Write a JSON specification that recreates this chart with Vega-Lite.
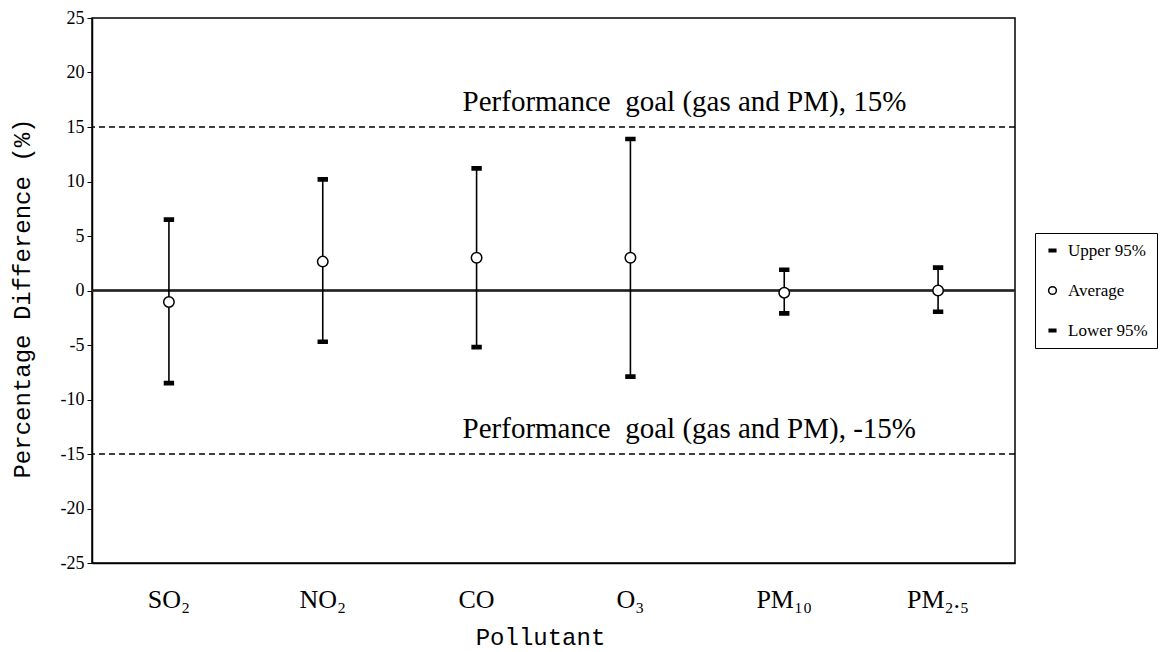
{
  "$schema": "https://vega.github.io/schema/vega-lite/v6.json",
  "width": 923,
  "height": 545,
  "autosize": {"type": "none"},
  "padding": {"left": 92, "top": 18, "right": 145, "bottom": 89},
  "background": "white",
  "config": {
    "view": {"stroke": "black", "strokeWidth": 1.5},
    "axis": {"grid": false, "domainColor": "black", "domainWidth": 1.5, "tickColor": "black", "labelColor": "black", "titleColor": "black"}
  },
  "data": {
    "values": [
      {"pollutant": "SO₂", "upper": 6.5, "average": -1.05, "lower": -8.5},
      {"pollutant": "NO₂", "upper": 10.2, "average": 2.65, "lower": -4.7},
      {"pollutant": "CO", "upper": 11.2, "average": 3.0, "lower": -5.2},
      {"pollutant": "O₃", "upper": 13.9, "average": 3.0, "lower": -7.9},
      {"pollutant": "PM₁₀", "upper": 1.9, "average": -0.2, "lower": -2.1},
      {"pollutant": "PM₂.₅", "upper": 2.1, "average": 0.0, "lower": -1.95}
    ]
  },
  "encoding": {
    "x": {
      "field": "pollutant",
      "type": "nominal",
      "sort": null,
      "scale": {"type": "band", "paddingInner": 0, "paddingOuter": 0, "domain": ["SO₂", "NO₂", "CO", "O₃", "PM₁₀", "PM₂.₅"]},
      "axis": {
        "title": "Pollutant",
        "titleFont": "Liberation Mono",
        "titleFontSize": 24,
        "titleFontWeight": "normal",
        "titleX": 448,
        "titleY": 74,
        "titleBaseline": "middle",
        "labelAngle": 0,
        "ticks": false,
        "labelPadding": 23,
        "labelFont": "Liberation Serif",
        "labelFontSize": 26
      }
    }
  },
  "layer": [
    {
      "mark": {"type": "rule", "color": "#222222", "strokeWidth": 1.6},
      "encoding": {"x": null, "y": {"datum": 0, "type": "quantitative"}}
    },
    {
      "data": {"values": [{"goal": 15}, {"goal": -15}]},
      "mark": {"type": "rule", "color": "black", "strokeWidth": 1.4, "strokeDash": [6, 4]},
      "encoding": {"x": null, "y": {"field": "goal", "type": "quantitative"}}
    },
    {
      "data": {"values": [{"label": "Performance\u00a0 goal (gas and PM), 15%"}]},
      "mark": {"type": "text", "align": "left", "baseline": "middle", "dx": -14, "font": "Liberation Serif", "fontSize": 29, "color": "black"},
      "encoding": {"x": {"datum": "CO"}, "y": {"datum": 17.3, "type": "quantitative"}, "text": {"field": "label"}}
    },
    {
      "data": {"values": [{"label": "Performance\u00a0 goal (gas and PM), -15%"}]},
      "mark": {"type": "text", "align": "left", "baseline": "middle", "dx": -14, "font": "Liberation Serif", "fontSize": 29, "color": "black"},
      "encoding": {"x": {"datum": "CO"}, "y": {"datum": -12.7, "type": "quantitative"}, "text": {"field": "label"}}
    },
    {
      "mark": {"type": "rule", "color": "black", "strokeWidth": 1.6},
      "encoding": {
        "y": {
          "field": "lower",
          "type": "quantitative",
          "scale": {"domain": [-25, 25], "nice": false, "zero": false},
          "axis": {
            "values": [-25, -20, -15, -10, -5, 0, 5, 10, 15, 20, 25],
            "labelExpr": "'' + datum.value",
            "title": "Percentage Difference (%)",
            "titleFont": "Liberation Mono",
            "titleFontSize": 24,
            "titleFontWeight": "normal",
            "titleX": -70,
            "titleY": 280,
            "titleAngle": -90,
            "titleAlign": "center",
            "titleBaseline": "middle",
            "labelFont": "Liberation Serif",
            "labelFontSize": 18,
            "tickSize": 5,
            "labelPadding": 3
          }
        },
        "y2": {"field": "upper"}
      }
    },
    {
      "transform": [{"fold": ["upper", "average", "lower"], "as": ["series", "value"]}],
      "mark": {"type": "point", "filled": true, "stroke": "black", "strokeWidth": 1.5, "size": 110, "opacity": 1},
      "encoding": {
        "y": {"field": "value", "type": "quantitative"},
        "shape": {
          "field": "series",
          "type": "nominal",
          "scale": {"domain": ["upper", "average", "lower"], "range": ["M-0.85,-0.3H0.85V0.3H-0.85Z", "circle", "M-0.85,-0.3H0.85V0.3H-0.85Z"]},
          "legend": {
            "title": null,
            "orient": "none",
            "legendX": 943,
            "legendY": 215,
            "labelExpr": "datum.label == 'upper' ? 'Upper 95%' : datum.label == 'average' ? 'Average' : 'Lower 95%'",
            "strokeColor": "black",
            "padding": 9,
            "labelOffset": 7,
            "labelFont": "Liberation Serif",
            "labelFontSize": 17,
            "labelColor": "black",
            "symbolSize": 60,
            "rowPadding": 22,
            "encode": {"symbols": {"update": {"stroke": {"value": "black"}, "strokeWidth": {"value": 1}}}}
          }
        },
        "fill": {
          "field": "series",
          "type": "nominal",
          "scale": {"domain": ["upper", "average", "lower"], "range": ["black", "white", "black"]},
          "legend": {
            "title": null,
            "orient": "none",
            "legendX": 943,
            "legendY": 215,
            "labelExpr": "datum.label == 'upper' ? 'Upper 95%' : datum.label == 'average' ? 'Average' : 'Lower 95%'",
            "strokeColor": "black",
            "padding": 9,
            "labelOffset": 7,
            "labelFont": "Liberation Serif",
            "labelFontSize": 17,
            "labelColor": "black",
            "symbolSize": 60,
            "rowPadding": 22,
            "encode": {"symbols": {"update": {"stroke": {"value": "black"}, "strokeWidth": {"value": 1}}}}
          }
        }
      }
    }
  ]
}
